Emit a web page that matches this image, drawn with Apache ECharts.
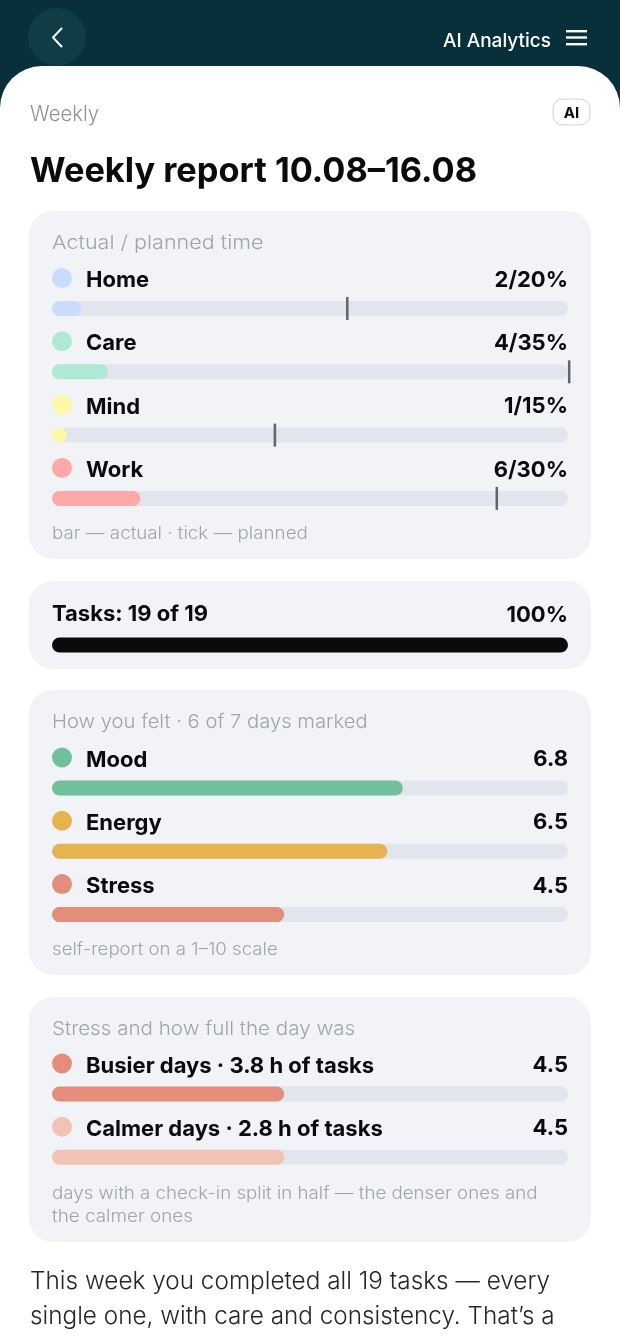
<!DOCTYPE html>
<html>
<head>
<meta charset="utf-8">
<title>Weekly report</title>
<style>
html,body{margin:0;padding:0;background:#fff;overflow:hidden}
#main{width:620px;height:1342px}
</style>
<script src="https://cdn.jsdelivr.net/npm/echarts@6/dist/echarts.min.js"></script>
</head>
<body>
<div id="main"></div>
<script>
var FONT = 'Inter';
var timeNames = ['Home', 'Care', 'Mind', 'Work'];
var timeActual = [2, 3.8, 1, 6];
var timePlanned = [20.03, 35.08, 15.12, 30.17];
var timeLabels = ['2/20%', '4/35%', '1/15%', '6/30%'];
var timeColors = ['#c9dcfd', '#ade9d3', '#fdf8a6', '#fda9a9'];
var timeMax = 35;

var taskNames = ['Tasks: 19 of 19'];
var taskValues = [19];
var taskLabels = ['100%'];
var taskMax = 19;

var feltNames = ['Mood', 'Energy', 'Stress'];
var feltValues = [6.8, 6.5, 4.5];
var feltLabels = ['6.8', '6.5', '4.5'];
var feltColors = ['#6fc09b', '#e5b450', '#e38d7a'];

var stressNames = ['Busier days · 3.8 h of tasks', 'Calmer days · 2.8 h of tasks'];
var stressValues = [4.5, 4.5];
var stressLabels = ['4.5', '4.5'];
var stressColors = ['#e38d7a', '#f0c3b5'];
var scaleMax = 10;

var paragraph = [
    'This week you completed all 19 tasks — every',
    'single one, with care and consistency. That’s a'
];

var ROW = 63.3, TRACK_H = 15;
var grids = [], xAxes = [], yAxes = [], series = [];

function addCard(top, names, values, labels, colors, max) {
    var i = grids.length;
    var n = names.length;
    grids.push({ left: 52, width: 516, top: top - ROW / 2, height: ROW * n });
    xAxes.push({ gridIndex: i, type: 'value', min: 0, max: max, show: false });
    yAxes.push({ gridIndex: i, type: 'category', data: names, inverse: true, show: false });
    // серая дорожка
    series.push({
        type: 'bar', xAxisIndex: i, yAxisIndex: i, silent: true, barWidth: TRACK_H, barGap: '-100%',
        data: names.map(function () { return max; }),
        itemStyle: { color: colors ? '#e2e5ec' : '#0b0b0d', borderRadius: TRACK_H / 2 },
        animation: false
    });
    if (colors) {
        series.push({
            type: 'bar', xAxisIndex: i, yAxisIndex: i, silent: true, barWidth: TRACK_H, barGap: '-100%',
            data: values.map(function (v, k) {
                return { value: v, itemStyle: { color: colors[k], borderRadius: TRACK_H / 2 } };
            }),
            animation: false
        });
    }
    // точка и название над дорожкой
    series.push({
        type: 'scatter', xAxisIndex: i, yAxisIndex: i, silent: true, clip: false, animation: false,
        symbolSize: colors ? 20 : 0,
        symbolOffset: [colors ? 10 : 0, colors ? -30.5 : -31],
        data: names.map(function (name, k) {
            return {
                value: [0, name],
                itemStyle: { color: colors ? colors[k] : '#000', opacity: 1 },
                label: {
                    show: true, position: 'right', distance: colors ? 14 : 0, formatter: name,
                    offset: [0, colors ? 2.5 : 0.5],
                    fontFamily: FONT, fontSize: 22, fontWeight: 700, color: '#0b0b0d', opacity: 1
                }
            };
        })
    });
    // значение справа
    series.push({
        type: 'scatter', xAxisIndex: i, yAxisIndex: i, silent: true, clip: false, animation: false,
        symbolSize: 0,
        symbolOffset: [0, colors ? -28.5 : -30],
        data: names.map(function (name, k) {
            return {
                value: [max, name],
                itemStyle: { opacity: 1 },
                label: {
                    show: true, position: 'left', distance: 0, formatter: labels[k],
                    fontFamily: FONT, fontSize: 22, fontWeight: 700, color: '#0b0b0d', opacity: 1
                }
            };
        })
    });
    return i;
}

var idx = addCard(308.5, timeNames, timeActual, timeLabels, timeColors, timeMax);
// риски план
series.push({
    type: 'scatter', xAxisIndex: idx, yAxisIndex: idx, silent: true, clip: false, animation: false,
    symbol: 'rect', symbolSize: [2.5, 23], itemStyle: { color: '#5f6372', opacity: 1 },
    data: timePlanned.map(function (v, k) { return [v, timeNames[k]]; })
});
addCard(645, taskNames, taskValues, taskLabels, null, taskMax);
addCard(788, feltNames, feltValues, feltLabels, feltColors, scaleMax);
addCard(1094, stressNames, stressValues, stressLabels, stressColors, scaleMax);

function card(y, h) {
    return { type: 'rect', shape: { x: 29, y: y, width: 562, height: h, r: 24 }, style: { fill: '#f1f3f7' } };
}
function txt(x, y, s, size, color, weight, align, sx) {
    return {
        type: 'text', x: x, y: y, z: 5, scaleX: sx || 1,
        style: {
            text: s, fontFamily: FONT, fontSize: size, fill: color, fontWeight: weight || 400,
            align: align || 'left', verticalAlign: 'middle'
        }
    };
}
var GREY = '#a0a4ab';
var elements = [
    { type: 'rect', shape: { x: 0, y: 0, width: 620, height: 110 }, style: { fill: '#07303a' } },
    { type: 'circle', shape: { cx: 57, cy: 37, r: 29 }, style: { fill: '#103d45' } },
    { type: 'polyline', shape: { points: [[62, 28], [53, 37.5], [62, 47]] }, style: { stroke: '#fff', lineWidth: 2, fill: null } },
    { type: 'rect', shape: { x: 0, y: 66, width: 620, height: 1276, r: [42, 42, 0, 0] }, style: { fill: '#fff' } },
    txt(551, 41, 'AI Analytics', 19, '#fff', 500, 'right'),
    { type: 'rect', shape: { x: 566, y: 30, width: 21, height: 2.4 }, style: { fill: '#fff' } },
    { type: 'rect', shape: { x: 566, y: 36.3, width: 21, height: 2.4 }, style: { fill: '#fff' } },
    { type: 'rect', shape: { x: 566, y: 43, width: 21, height: 2.4 }, style: { fill: '#fff' } },
    txt(30, 115, 'Weekly', 21, '#8e9198', 300, 'left', 0.97),
    { type: 'rect', shape: { x: 553, y: 99, width: 37, height: 26, r: 10 }, style: { fill: '#fff', stroke: '#cfd1d4', lineWidth: 1 } },
    txt(571.5, 113.5, 'AI', 15, '#0b0b0d', 700, 'center'),
    txt(30, 172, 'Weekly report 10.08–16.08', 34, '#0b0b0d', 700, 'left', 1.01),
    card(211, 348), card(581, 88), card(690, 285), card(997, 245),
    txt(52, 243, 'Actual / planned time', 19, GREY, 300, 'left', 1.134),
    txt(52, 534, 'bar — actual · tick — planned', 17, GREY, 300, 'left', 1.104),
    txt(52, 722, 'How you felt · 6 of 7 days marked', 19, GREY, 300, 'left', 1.064),
    txt(52, 950, 'self-report on a 1–10 scale', 17, GREY, 300, 'left', 1.098),
    txt(52, 1029, 'Stress and how full the day was', 19, GREY, 300, 'left', 1.083),
    txt(52, 1194, 'days with a check-in split in half — the denser ones and', 17, GREY, 300, 'left', 1.1),
    txt(52, 1217, 'the calmer ones', 17, GREY, 300, 'left', 1.11),
    txt(30, 1282, paragraph[0], 24, '#22252a', 300, 'left', 1.014),
    txt(30, 1317, paragraph[1], 24, '#22252a', 300, 'left', 1.013)
];

var myChart = echarts.init(document.getElementById('main'));
myChart.setOption({
    animation: false,
    grid: grids,
    xAxis: xAxes,
    yAxis: yAxes,
    graphic: { elements: elements },
    series: series
});
</script>
</body>
</html>
